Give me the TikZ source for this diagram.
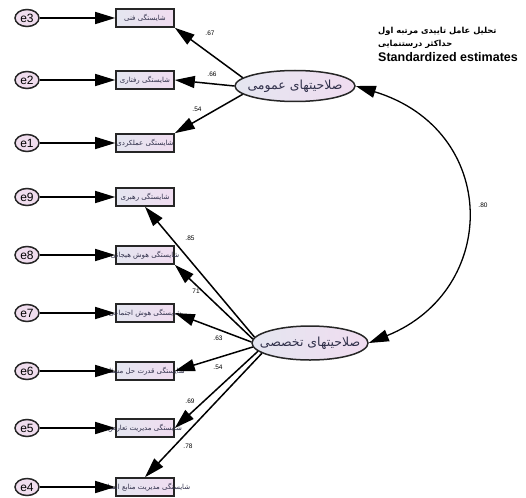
\documentclass[tikz,border=0pt]{standalone}
\usepackage{fontspec}
\setmainfont{Liberation Sans}
\newfontfamily\arabicfont[Script=Arabic]{DejaVu Sans}
\TeXXeTstate=1
\usetikzlibrary{arrows.meta,shapes.geometric}
\newcommand{\boxtext}[1]{\makebox[0pt][c]{\arabicfont\beginR #1\endR}}
\definecolor{boxL}{HTML}{E4E6F0}
\definecolor{boxR}{HTML}{F0DCF0}
\definecolor{errfill}{HTML}{F0DDEE}
\definecolor{txt}{HTML}{30304A}
\tikzset{
  ind/.style={draw=black!85, line width=1.6pt, minimum width=58pt, minimum height=18pt,
    inner sep=0pt, left color=boxL, right color=boxR, text=txt,
    font=\fontsize{7}{8}\selectfont},
  err/.style={ellipse, draw=black!85, line width=1.5pt, minimum width=24pt, minimum height=17pt,
    inner sep=0pt, fill=errfill, font=\fontsize{12}{12}\selectfont},
  lat/.style={ellipse, draw=black!85, line width=1.5pt, inner sep=0pt,
    left color=boxL, right color=boxR, text=txt, font=\fontsize{12.5}{13}\selectfont},
  pth/.style={line width=1.5pt, -{Triangle[length=20pt,width=12pt]}},
  cov/.style={line width=1.3pt, {Triangle[length=20pt,width=12pt]}-{Triangle[length=20pt,width=12pt]}},
  lbl/.style={font=\fontsize{6.5}{7}\selectfont, inner sep=0pt},
  ttl/.style={anchor=west, inner sep=0pt}
}
\begin{document}
\begin{tikzpicture}[x=1pt,y=-1pt]
\useasboundingbox (0,0) rectangle (526,497);
% error terms
\node[err] (e3) at (27,18) {e3};
\node[err] (e2) at (27,80) {e2};
\node[err] (e1) at (27,143) {e1};
\node[err] (e9) at (27,197) {e9};
\node[err] (e8) at (27,255) {e8};
\node[err] (e7) at (27,313) {e7};
\node[err] (e6) at (27,371) {e6};
\node[err] (e5) at (27,428) {e5};
\node[err] (e4) at (27,487) {e4};
% indicators
\node[ind] (b3) at (145,18) {\boxtext{شایستگی فنی}};
\node[ind] (b2) at (145,80) {\boxtext{شایستگی رفتاری}};
\node[ind] (b1) at (145,143) {\boxtext{شایستگی عملکردی}};
\node[ind] (b9) at (145,197) {\boxtext{شایستگی رهبری}};
\node[ind] (b8) at (145,255) {\boxtext{شایستگی هوش هیجانی}};
\node[ind] (b7) at (145,313) {\boxtext{شایستگی هوش اجتماعی}};
\node[ind] (b6) at (145,371) {\boxtext{شایستگی قدرت حل مسئله}};
\node[ind] (b5) at (145,428) {\boxtext{شایستگی مدیریت تعارض}};
\node[ind] (b4) at (145,487) {\boxtext{شایستگی مدیریت منابع انسانی}};
% latent
\node[lat, minimum width=120pt, minimum height=31pt] (gen) at (295,86)
  {\boxtext{صلاحیتهای عمومی}};
\node[lat, minimum width=116pt, minimum height=34pt] (sp) at (310,343)
  {\boxtext{صلاحیتهای تخصصی}};
% error arrows
\foreach \i in {3,2,1,9,8,7,6,5,4}{
  \draw[pth] (e\i) -- (b\i.west);
}
% loadings general
\draw[pth] (gen.171) -- (b3.south east);
\draw[pth] (gen.west) -- (b2.east);
\draw[pth] (gen.189) -- (b1.north east);
% loadings specific
\draw[pth] (sp.174) -- (b9.south);
\draw[pth] (sp.176) -- (b8.south east);
\draw[pth] (sp.179) -- (b7.east);
\draw[pth] (sp.184) -- (b6.east);
\draw[pth] (sp.189) -- (b5.east);
\draw[pth] (sp.192) -- (b4.north);
% covariance
\draw[cov] (gen.east) .. controls (500,130) and (500,290) .. (sp.east);
% labels
\node[lbl] (l1) at (210,33) {.67};
\node[lbl] (l2) at (212,74) {.66};
\node[lbl] (l3) at (197,109) {.54};
\node[lbl] (l9) at (190,238) {.85};
\node[lbl] (l8) at (196,291) {71};
\node[lbl] (l7) at (218,338) {.63};
\node[lbl] (l6) at (218,367) {.54};
\node[lbl] (l5) at (190,401) {.69};
\node[lbl] (l4) at (188,446) {.78};
\node[lbl] (lc) at (483,205) {.80};
% title
\node[ttl] (t1) at (378,31) {\arabicfont\bfseries\fontsize{8.3}{10}\selectfont\beginR تحلیل عامل تاییدی مرتبه اول\endR};
\node[ttl] (t2) at (378,44) {\arabicfont\bfseries\fontsize{8.3}{10}\selectfont\beginR حداکثر درستنمایی\endR};
\node[ttl] (t3) at (378,57) {\bfseries\fontsize{12.5}{13}\selectfont Standardized estimates};
\end{tikzpicture}
\end{document}
